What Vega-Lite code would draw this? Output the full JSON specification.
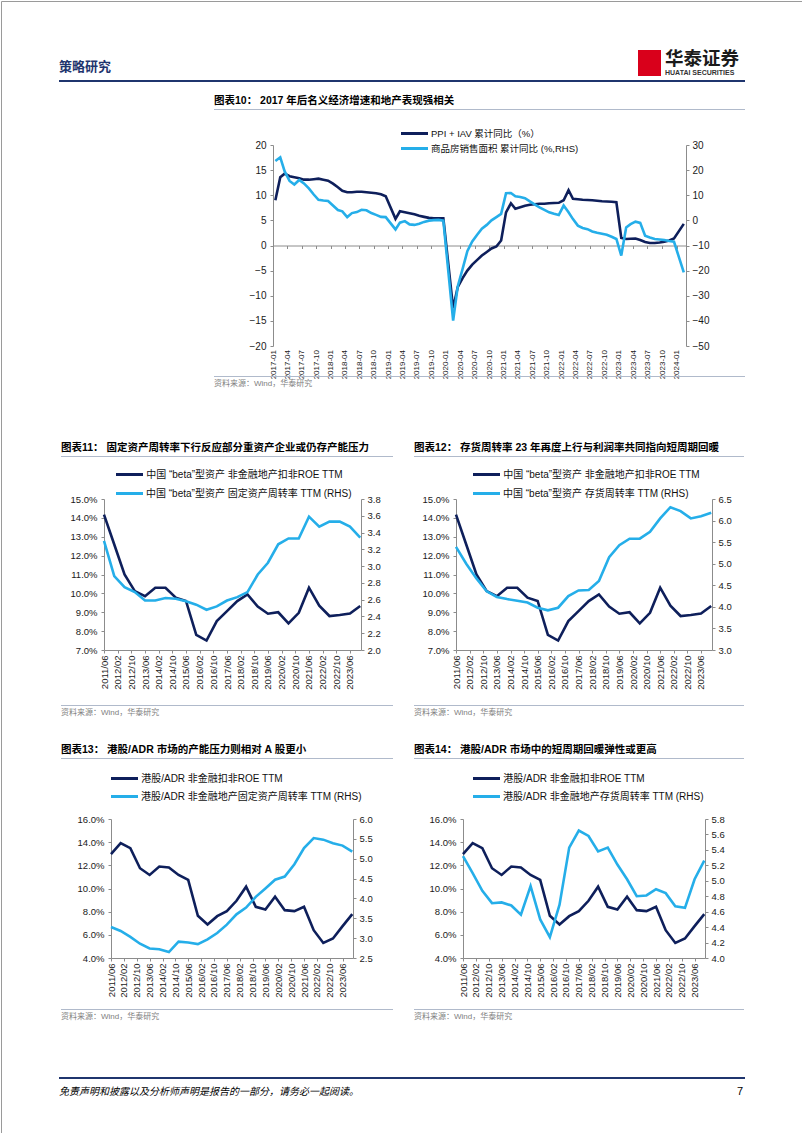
{
  "$schema": "https://vega.github.io/schema/vega-lite/v6.json",
  "padding": 0,
  "spacing": 0,
  "bounds": "flush",
  "config": {
    "font": "Liberation Sans, Noto Sans CJK SC",
    "view": {"stroke": null},
    "axis": {"grid": false, "domainColor": "#8c8c8c", "tickColor": "#8c8c8c", "labelColor": "#1a1a1a", "labelFontSize": 9.5, "tickSize": 3, "labelFont": "Liberation Sans, Noto Sans CJK SC"},
    "title": {"font": "Liberation Sans, Noto Sans CJK SC"}
  },
  "datasets": {
    "empty": [],
    "c10_ppi": [
      {"month": "2017-01-16", "value": 9.0}, {"month": "2017-02-16", "value": 13.6}, {"month": "2017-03-16", "value": 14.3}, {"month": "2017-04-16", "value": 13.8}, {"month": "2017-05-16", "value": 13.6}, {"month": "2017-06-16", "value": 13.4}, {"month": "2017-07-16", "value": 13.1}, {"month": "2017-08-16", "value": 13.1}, {"month": "2017-09-16", "value": 13.2}, {"month": "2017-10-16", "value": 13.3}, {"month": "2017-11-16", "value": 13.1}, {"month": "2017-12-16", "value": 12.9},
      {"month": "2018-01-16", "value": 12.3}, {"month": "2018-02-16", "value": 11.6}, {"month": "2018-03-16", "value": 10.9}, {"month": "2018-04-16", "value": 10.6}, {"month": "2018-05-16", "value": 10.6}, {"month": "2018-06-16", "value": 10.7}, {"month": "2018-07-16", "value": 10.7}, {"month": "2018-08-16", "value": 10.6}, {"month": "2018-09-16", "value": 10.5}, {"month": "2018-10-16", "value": 10.4}, {"month": "2018-11-16", "value": 10.2}, {"month": "2018-12-16", "value": 9.8},
      {"month": "2019-02-16", "value": 5.3}, {"month": "2019-03-16", "value": 6.8}, {"month": "2019-04-16", "value": 6.6}, {"month": "2019-05-16", "value": 6.4}, {"month": "2019-06-16", "value": 6.2}, {"month": "2019-07-16", "value": 5.9}, {"month": "2019-08-16", "value": 5.7}, {"month": "2019-09-16", "value": 5.5}, {"month": "2019-10-16", "value": 5.4}, {"month": "2019-11-16", "value": 5.4}, {"month": "2019-12-16", "value": 5.4},
      {"month": "2020-02-16", "value": -12.5}, {"month": "2020-03-16", "value": -8.3}, {"month": "2020-04-16", "value": -6.5}, {"month": "2020-05-16", "value": -5.0}, {"month": "2020-06-16", "value": -3.8}, {"month": "2020-07-16", "value": -2.9}, {"month": "2020-08-16", "value": -2.0}, {"month": "2020-09-16", "value": -1.3}, {"month": "2020-10-16", "value": -0.6}, {"month": "2020-11-16", "value": -0.2}, {"month": "2020-12-16", "value": 1.0},
      {"month": "2021-01-16", "value": 6.6}, {"month": "2021-02-16", "value": 8.4}, {"month": "2021-03-16", "value": 7.3}, {"month": "2021-04-16", "value": 7.6}, {"month": "2021-05-16", "value": 7.9}, {"month": "2021-06-16", "value": 8.1}, {"month": "2021-07-16", "value": 8.2}, {"month": "2021-08-16", "value": 8.3}, {"month": "2021-09-16", "value": 8.3}, {"month": "2021-10-16", "value": 8.4}, {"month": "2021-11-16", "value": 8.45}, {"month": "2021-12-16", "value": 8.5},
      {"month": "2022-01-16", "value": 9.0}, {"month": "2022-02-16", "value": 11.0}, {"month": "2022-03-16", "value": 9.3}, {"month": "2022-04-16", "value": 9.2}, {"month": "2022-05-16", "value": 9.1}, {"month": "2022-06-16", "value": 9.05}, {"month": "2022-07-16", "value": 9.0}, {"month": "2022-08-16", "value": 8.9}, {"month": "2022-09-16", "value": 8.8}, {"month": "2022-10-16", "value": 8.75}, {"month": "2022-11-16", "value": 8.7}, {"month": "2022-12-16", "value": 8.6},
      {"month": "2023-01-16", "value": 1.5}, {"month": "2023-02-16", "value": 1.3}, {"month": "2023-03-16", "value": 1.35}, {"month": "2023-04-16", "value": 1.4}, {"month": "2023-05-16", "value": 1.1}, {"month": "2023-06-16", "value": 0.7}, {"month": "2023-07-16", "value": 0.5}, {"month": "2023-08-16", "value": 0.5}, {"month": "2023-09-16", "value": 0.6}, {"month": "2023-10-16", "value": 0.75}, {"month": "2023-11-16", "value": 1.0}, {"month": "2023-12-16", "value": 1.4},
      {"month": "2024-02-16", "value": 4.3}
    ],
    "c10_sales": [
      {"month": "2017-01-16", "value": 23.6}, {"month": "2017-02-16", "value": 25.1}, {"month": "2017-03-16", "value": 19.5}, {"month": "2017-04-16", "value": 15.7}, {"month": "2017-05-16", "value": 14.3}, {"month": "2017-06-16", "value": 16.1}, {"month": "2017-07-16", "value": 14.7}, {"month": "2017-08-16", "value": 12.7}, {"month": "2017-09-16", "value": 10.3}, {"month": "2017-10-16", "value": 8.2}, {"month": "2017-11-16", "value": 7.9}, {"month": "2017-12-16", "value": 7.7},
      {"month": "2018-02-16", "value": 4.1}, {"month": "2018-03-16", "value": 3.6}, {"month": "2018-04-16", "value": 1.3}, {"month": "2018-05-16", "value": 2.9}, {"month": "2018-06-16", "value": 3.3}, {"month": "2018-07-16", "value": 4.2}, {"month": "2018-08-16", "value": 4.0}, {"month": "2018-09-16", "value": 2.9}, {"month": "2018-10-16", "value": 2.2}, {"month": "2018-11-16", "value": 1.4}, {"month": "2018-12-16", "value": 1.3},
      {"month": "2019-02-16", "value": -3.6}, {"month": "2019-03-16", "value": -0.9}, {"month": "2019-04-16", "value": -0.3}, {"month": "2019-05-16", "value": -1.6}, {"month": "2019-06-16", "value": -1.8}, {"month": "2019-07-16", "value": -1.3}, {"month": "2019-08-16", "value": -0.6}, {"month": "2019-09-16", "value": -0.1}, {"month": "2019-10-16", "value": 0.1}, {"month": "2019-11-16", "value": 0.2}, {"month": "2019-12-16", "value": -0.1},
      {"month": "2020-02-16", "value": -39.9}, {"month": "2020-03-16", "value": -26.3}, {"month": "2020-04-16", "value": -19.3}, {"month": "2020-05-16", "value": -12.3}, {"month": "2020-06-16", "value": -8.4}, {"month": "2020-07-16", "value": -5.8}, {"month": "2020-08-16", "value": -3.3}, {"month": "2020-09-16", "value": -1.8}, {"month": "2020-10-16", "value": 0.0}, {"month": "2020-11-16", "value": 1.3}, {"month": "2020-12-16", "value": 2.6},
      {"month": "2021-01-16", "value": 10.8}, {"month": "2021-02-16", "value": 10.9}, {"month": "2021-03-16", "value": 9.6}, {"month": "2021-04-16", "value": 9.3}, {"month": "2021-05-16", "value": 8.8}, {"month": "2021-06-16", "value": 7.6}, {"month": "2021-07-16", "value": 6.4}, {"month": "2021-08-16", "value": 5.2}, {"month": "2021-09-16", "value": 4.2}, {"month": "2021-10-16", "value": 3.2}, {"month": "2021-11-16", "value": 2.6}, {"month": "2021-12-16", "value": 2.1},
      {"month": "2022-01-16", "value": 5.9}, {"month": "2022-02-16", "value": 3.2}, {"month": "2022-03-16", "value": 0.5}, {"month": "2022-04-16", "value": -2.1}, {"month": "2022-05-16", "value": -3.0}, {"month": "2022-06-16", "value": -3.5}, {"month": "2022-07-16", "value": -4.4}, {"month": "2022-08-16", "value": -4.9}, {"month": "2022-09-16", "value": -5.3}, {"month": "2022-10-16", "value": -5.7}, {"month": "2022-11-16", "value": -6.5}, {"month": "2022-12-16", "value": -7.4},
      {"month": "2023-01-16", "value": -14.0}, {"month": "2023-02-16", "value": -2.8}, {"month": "2023-03-16", "value": -1.5}, {"month": "2023-04-16", "value": -0.5}, {"month": "2023-05-16", "value": -1.0}, {"month": "2023-06-16", "value": -6.1}, {"month": "2023-07-16", "value": -6.8}, {"month": "2023-08-16", "value": -7.4}, {"month": "2023-09-16", "value": -7.6}, {"month": "2023-10-16", "value": -7.8}, {"month": "2023-11-16", "value": -8.2}, {"month": "2023-12-16", "value": -8.5},
      {"month": "2024-02-16", "value": -20.7}
    ],
    "panel": [
      {"date": "2011-06-01", "roe_a": 14.17, "fa_a": 3.30, "inv_a": 5.39, "roe_hk": 12.96, "fa_hk": 3.28, "inv_hk": 5.32},
      {"date": "2011-12-01", "roe_a": 12.59, "fa_a": 2.88, "inv_a": 5.00, "roe_hk": 13.92, "fa_hk": 3.18, "inv_hk": 5.10},
      {"date": "2012-06-01", "roe_a": 11.00, "fa_a": 2.75, "inv_a": 4.66, "roe_hk": 13.48, "fa_hk": 3.03, "inv_hk": 4.87},
      {"date": "2012-12-01", "roe_a": 10.12, "fa_a": 2.69, "inv_a": 4.36, "roe_hk": 11.75, "fa_hk": 2.86, "inv_hk": 4.71},
      {"date": "2013-06-01", "roe_a": 9.85, "fa_a": 2.59, "inv_a": 4.23, "roe_hk": 11.17, "fa_hk": 2.74, "inv_hk": 4.72},
      {"date": "2013-12-01", "roe_a": 10.30, "fa_a": 2.59, "inv_a": 4.18, "roe_hk": 11.90, "fa_hk": 2.72, "inv_hk": 4.68},
      {"date": "2014-06-01", "roe_a": 10.30, "fa_a": 2.62, "inv_a": 4.14, "roe_hk": 11.81, "fa_hk": 2.65, "inv_hk": 4.56},
      {"date": "2014-12-01", "roe_a": 9.77, "fa_a": 2.61, "inv_a": 4.10, "roe_hk": 11.17, "fa_hk": 2.91, "inv_hk": 4.93},
      {"date": "2015-06-01", "roe_a": 9.60, "fa_a": 2.58, "inv_a": 3.98, "roe_hk": 10.74, "fa_hk": 2.89, "inv_hk": 4.50},
      {"date": "2015-12-01", "roe_a": 7.80, "fa_a": 2.54, "inv_a": 3.92, "roe_hk": 7.64, "fa_hk": 2.85, "inv_hk": 4.27},
      {"date": "2016-06-01", "roe_a": 7.50, "fa_a": 2.48, "inv_a": 3.98, "roe_hk": 6.89, "fa_hk": 2.97, "inv_hk": 4.69},
      {"date": "2016-12-01", "roe_a": 8.53, "fa_a": 2.52, "inv_a": 4.25, "roe_hk": 7.61, "fa_hk": 3.13, "inv_hk": 5.43},
      {"date": "2017-06-01", "roe_a": 9.06, "fa_a": 2.59, "inv_a": 4.38, "roe_hk": 8.05, "fa_hk": 3.34, "inv_hk": 5.65},
      {"date": "2017-12-01", "roe_a": 9.59, "fa_a": 2.63, "inv_a": 4.39, "roe_hk": 8.94, "fa_hk": 3.60, "inv_hk": 5.58},
      {"date": "2018-06-01", "roe_a": 9.94, "fa_a": 2.69, "inv_a": 4.60, "roe_hk": 10.16, "fa_hk": 3.77, "inv_hk": 5.38},
      {"date": "2018-12-01", "roe_a": 9.30, "fa_a": 2.90, "inv_a": 5.15, "roe_hk": 8.42, "fa_hk": 4.04, "inv_hk": 5.43},
      {"date": "2019-06-01", "roe_a": 8.92, "fa_a": 3.04, "inv_a": 5.43, "roe_hk": 8.19, "fa_hk": 4.25, "inv_hk": 5.21},
      {"date": "2019-12-01", "roe_a": 9.00, "fa_a": 3.26, "inv_a": 5.58, "roe_hk": 9.29, "fa_hk": 4.47, "inv_hk": 5.02},
      {"date": "2020-06-01", "roe_a": 8.41, "fa_a": 3.33, "inv_a": 5.58, "roe_hk": 8.13, "fa_hk": 4.55, "inv_hk": 4.80},
      {"date": "2020-12-01", "roe_a": 8.97, "fa_a": 3.33, "inv_a": 5.74, "roe_hk": 8.05, "fa_hk": 4.86, "inv_hk": 4.81},
      {"date": "2021-06-01", "roe_a": 10.30, "fa_a": 3.59, "inv_a": 6.05, "roe_hk": 8.42, "fa_hk": 5.27, "inv_hk": 4.89},
      {"date": "2021-12-01", "roe_a": 9.35, "fa_a": 3.47, "inv_a": 6.31, "roe_hk": 6.40, "fa_hk": 5.52, "inv_hk": 4.84},
      {"date": "2022-06-01", "roe_a": 8.80, "fa_a": 3.53, "inv_a": 6.22, "roe_hk": 5.30, "fa_hk": 5.48, "inv_hk": 4.67},
      {"date": "2022-12-01", "roe_a": 8.85, "fa_a": 3.53, "inv_a": 6.05, "roe_hk": 5.68, "fa_hk": 5.39, "inv_hk": 4.65},
      {"date": "2023-06-01", "roe_a": 8.93, "fa_a": 3.47, "inv_a": 6.10, "roe_hk": 6.75, "fa_hk": 5.33, "inv_hk": 5.02},
      {"date": "2023-12-01", "roe_a": 9.33, "fa_a": 3.34, "inv_a": 6.18, "roe_hk": 7.79, "fa_hk": 5.18, "inv_hk": 5.26}
    ]
  },
  "vconcat": [
    {"hconcat": [{"width": 801, "height": 1132, "data": {"name": "empty"}, "mark": "point", "view": {"stroke": "#9a9a9a", "strokeWidth": 1, "fill": null}}], "spacing": 0, "bounds": "flush"},
    {"width": 1, "height": 49, "data": {"name": "empty"}, "mark": "point"},
    {"hconcat": [
      {"width": 637, "height": 1, "data": {"name": "empty"}, "mark": "point"},
      {"width": 23, "height": 26, "data": {"name": "empty"}, "mark": "point", "view": {"fill": "#d9001b", "stroke": null}}
    ], "spacing": 0, "bounds": "flush"},
    {"width": 1, "height": 27, "data": {"name": "empty"}, "mark": "point"},
    {"hconcat": [
      {"width": 664, "height": 1, "data": {"name": "empty"}, "mark": "point"},
      {"width": 78, "height": 1, "data": {"name": "empty"}, "mark": "point", "title": {"text": "华泰证券", "subtitle": "HUATAI SECURITIES", "anchor": "start", "frame": "group", "orient": "top", "offset": 1, "fontSize": 18.5, "fontWeight": "bold", "color": "#1a1a1a", "subtitleFontSize": 7, "subtitleFontWeight": "bold", "subtitleColor": "#333333", "subtitlePadding": 1}}
    ], "spacing": 0, "bounds": "flush"},
    {"width": 1, "height": 3, "data": {"name": "empty"}, "mark": "point"},
    {"hconcat": [
      {"width": 58, "height": 1, "data": {"name": "empty"}, "mark": "point"},
      {"width": 686, "height": 2, "data": {"name": "empty"}, "mark": "point", "view": {"fill": "#1f356e", "stroke": null}, "title": {"text": "策略研究", "anchor": "start", "frame": "group", "orient": "top", "offset": 6, "fontSize": 13, "fontWeight": "bold", "color": "#1f356e", "dx": 0}}
    ], "spacing": 0, "bounds": "flush"},
    {"width": 1, "height": 29, "data": {"name": "empty"}, "mark": "point"},
    {"hconcat": [
      {"width": 213, "height": 1, "data": {"name": "empty"}, "mark": "point"},
      {"width": 531, "height": 1, "data": {"name": "empty"}, "mark": "point", "view": {"fill": "#b0bacb", "stroke": null}, "title": {"text": "图表10： 2017 年后名义经济增速和地产表现强相关", "anchor": "start", "frame": "group", "orient": "top", "offset": 3, "fontSize": 10.5, "fontWeight": "bold", "color": "#000000"}}
    ], "spacing": 0, "bounds": "flush"},
    {"width": 1, "height": 23, "data": {"name": "empty"}, "mark": "point"},
    {"hconcat": [
      {"width": 400, "height": 1, "data": {"name": "empty"}, "mark": "point"},
      {"width": 27, "height": 3, "data": {"name": "empty"}, "mark": "point", "view": {"fill": "#0e1f5b", "stroke": null}, "title": {"text": "PPI + IAV 累计同比（%）", "orient": "right", "angle": 0, "align": "right", "baseline": "middle", "anchor": "middle", "offset": 3, "fontSize": 9.5, "fontWeight": "normal", "color": "#111111"}}
    ], "spacing": 0, "bounds": "flush"},
    {"width": 1, "height": 13, "data": {"name": "empty"}, "mark": "point"},
    {"hconcat": [
      {"width": 272, "height": 1, "data": {"name": "empty"}, "mark": "point"},
      {
        "width": 413, "height": 201,
        "encoding": {
          "x": {"field": "month", "type": "temporal",
            "scale": {"type": "utc", "domain": [{"year": 2017, "month": 1, "date": 1, "utc": true}, {"year": 2024, "month": 3, "date": 1, "utc": true}]},
            "axis": {"title": null, "labelExpr": "utcFormat(datum.value, '%Y-%m')", "tickCount": {"interval": "month", "step": 3}, "labelAngle": -90, "offset": -100.5, "labelPadding": 101, "tickSize": 3, "labelFontSize": 8, "labelOverlap": false, "labelFlush": false}}
        },
        "layer": [
          {
            "data": {"name": "c10_ppi"},
            "mark": {"type": "line", "color": "#0e1f5b", "strokeWidth": 2.6},
            "encoding": {
              "y": {"field": "value", "type": "quantitative", "scale": {"domain": [-20, 20], "nice": false, "zero": false},
                "axis": {"title": null, "values": [-20, -15, -10, -5, 0, 5, 10, 15, 20], "labelPadding": 4, "labelFontSize": 10}}
            }
          },
          {
            "data": {"name": "c10_sales"},
            "mark": {"type": "line", "color": "#25aee9", "strokeWidth": 2.6},
            "encoding": {
              "y": {"field": "value", "type": "quantitative", "scale": {"domain": [-50, 30], "nice": false, "zero": false},
                "axis": {"title": null, "orient": "right", "values": [-50, -40, -30, -20, -10, 0, 10, 20, 30], "labelPadding": 3, "labelFontSize": 10}}
            }
          }
        ],
        "resolve": {"scale": {"y": "independent"}}
      }
    ], "spacing": 0, "bounds": "flush"},
    {"width": 1, "height": 2, "data": {"name": "empty"}, "mark": "point"},
    {"hconcat": [
      {"width": 400, "height": 1, "data": {"name": "empty"}, "mark": "point"},
      {"width": 27, "height": 3, "data": {"name": "empty"}, "mark": "point", "view": {"fill": "#25aee9", "stroke": null}, "title": {"text": "商品房销售面积 累计同比 (%,RHS)", "orient": "right", "angle": 0, "align": "right", "baseline": "middle", "anchor": "middle", "offset": 3, "fontSize": 9.5, "fontWeight": "normal", "color": "#111111"}}
    ], "spacing": 0, "bounds": "flush"},
    {"width": 1, "height": 229, "data": {"name": "empty"}, "mark": "point"},
    {"hconcat": [
      {"width": 213, "height": 1, "data": {"name": "empty"}, "mark": "point"},
      {"width": 531, "height": 1, "data": {"name": "empty"}, "mark": "point", "view": {"fill": "#b0bacb", "stroke": null}, "title": {"text": "资料来源：Wind，华泰研究", "anchor": "start", "frame": "group", "orient": "bottom", "offset": 3, "fontSize": 8, "fontWeight": "normal", "color": "#808080"}}
    ], "spacing": 0, "bounds": "flush"},
    {"width": 1, "height": 80, "data": {"name": "empty"}, "mark": "point"},
    {"hconcat": [
      {"width": 60, "height": 1, "data": {"name": "empty"}, "mark": "point"},
      {"width": 332, "height": 1, "data": {"name": "empty"}, "mark": "point", "view": {"fill": "#b0bacb", "stroke": null}, "title": {"text": "图表11： 固定资产周转率下行反应部分重资产企业或仍存产能压力", "anchor": "start", "frame": "group", "orient": "top", "offset": 3, "fontSize": 10.5, "fontWeight": "bold", "color": "#000000"}},
      {"width": 21, "height": 1, "data": {"name": "empty"}, "mark": "point"},
      {"width": 330, "height": 1, "data": {"name": "empty"}, "mark": "point", "view": {"fill": "#b0bacb", "stroke": null}, "title": {"text": "图表12： 存货周转率 23 年再度上行与利润率共同指向短周期回暖", "anchor": "start", "frame": "group", "orient": "top", "offset": 3, "fontSize": 10.5, "fontWeight": "bold", "color": "#000000"}}
    ], "spacing": 0, "bounds": "flush"},
    {"width": 1, "height": 17, "data": {"name": "empty"}, "mark": "point"},
    {"hconcat": [
      {"width": 115, "height": 1, "data": {"name": "empty"}, "mark": "point"},
      {"width": 27, "height": 3, "data": {"name": "empty"}, "mark": "point", "view": {"fill": "#0e1f5b", "stroke": null}, "title": {"text": "中国 “beta”型资产 非金融地产扣非ROE TTM", "orient": "right", "angle": 0, "align": "right", "baseline": "middle", "anchor": "middle", "offset": 3, "fontSize": 10, "fontWeight": "normal", "color": "#111111"}},
      {"width": 330, "height": 1, "data": {"name": "empty"}, "mark": "point"},
      {"width": 27, "height": 3, "data": {"name": "empty"}, "mark": "point", "view": {"fill": "#0e1f5b", "stroke": null}, "title": {"text": "中国 “beta”型资产 非金融地产扣非ROE TTM", "orient": "right", "angle": 0, "align": "right", "baseline": "middle", "anchor": "middle", "offset": 3, "fontSize": 10, "fontWeight": "normal", "color": "#111111"}}
    ], "spacing": 0, "bounds": "flush"},
    {"width": 1, "height": 19, "data": {"name": "empty"}, "mark": "point"},
    {"hconcat": [
      {"width": 115, "height": 1, "data": {"name": "empty"}, "mark": "point"},
      {"width": 27, "height": 3, "data": {"name": "empty"}, "mark": "point", "view": {"fill": "#25aee9", "stroke": null}, "title": {"text": "中国 “beta”型资产 固定资产周转率 TTM (RHS)", "orient": "right", "angle": 0, "align": "right", "baseline": "middle", "anchor": "middle", "offset": 3, "fontSize": 10, "fontWeight": "normal", "color": "#111111"}},
      {"width": 330, "height": 1, "data": {"name": "empty"}, "mark": "point"},
      {"width": 27, "height": 3, "data": {"name": "empty"}, "mark": "point", "view": {"fill": "#25aee9", "stroke": null}, "title": {"text": "中国 “beta”型资产 存货周转率 TTM (RHS)", "orient": "right", "angle": 0, "align": "right", "baseline": "middle", "anchor": "middle", "offset": 3, "fontSize": 10, "fontWeight": "normal", "color": "#111111"}}
    ], "spacing": 0, "bounds": "flush"},
    {"width": 1, "height": 7, "data": {"name": "empty"}, "mark": "point"},
    {"hconcat": [
      {"width": 103, "height": 1, "data": {"name": "empty"}, "mark": "point"},
      {
        "width": 257, "height": 151,
        "data": {"name": "panel"},
        "encoding": {
          "x": {"field": "date", "type": "temporal", "scale": {"type": "utc", "domain": [{"year": 2011, "month": 6, "date": 1, "utc": true}, {"year": 2023, "month": 12, "date": 15, "utc": true}]},
            "axis": {"title": null, "labelExpr": "utcFormat(datum.value, '%Y/%m')", "labelAngle": -90, "labelPadding": 2, "tickSize": 3, "labelOverlap": false, "labelFlush": false, "labelFontSize": 9.5,
              "values": [{"year": 2011, "month": 6, "date": 1, "utc": true}, {"year": 2012, "month": 2, "date": 1, "utc": true}, {"year": 2012, "month": 10, "date": 1, "utc": true}, {"year": 2013, "month": 6, "date": 1, "utc": true}, {"year": 2014, "month": 2, "date": 1, "utc": true}, {"year": 2014, "month": 10, "date": 1, "utc": true}, {"year": 2015, "month": 6, "date": 1, "utc": true}, {"year": 2016, "month": 2, "date": 1, "utc": true}, {"year": 2016, "month": 10, "date": 1, "utc": true}, {"year": 2017, "month": 6, "date": 1, "utc": true}, {"year": 2018, "month": 2, "date": 1, "utc": true}, {"year": 2018, "month": 10, "date": 1, "utc": true}, {"year": 2019, "month": 6, "date": 1, "utc": true}, {"year": 2020, "month": 2, "date": 1, "utc": true}, {"year": 2020, "month": 10, "date": 1, "utc": true}, {"year": 2021, "month": 6, "date": 1, "utc": true}, {"year": 2022, "month": 2, "date": 1, "utc": true}, {"year": 2022, "month": 10, "date": 1, "utc": true}, {"year": 2023, "month": 6, "date": 1, "utc": true}]}}
        },
        "layer": [
          {"mark": {"type": "line", "color": "#0e1f5b", "strokeWidth": 2.6},
           "encoding": {
             "y": {"field": "roe_a", "type": "quantitative", "scale": {"domain": [7, 15], "nice": false, "zero": false},
               "axis": {"title": null, "values": [7, 8, 9, 10, 11, 12, 13, 14, 15], "labelExpr": "format(datum.value, '.1f') + '%'", "labelPadding": 4}}
           }},
          {"mark": {"type": "line", "color": "#25aee9", "strokeWidth": 2.6},
           "encoding": {
             "y": {"field": "fa_a", "type": "quantitative", "scale": {"domain": [2.0, 3.8], "nice": false, "zero": false},
               "axis": {"title": null, "orient": "right", "values": [2.0, 2.2, 2.4, 2.6, 2.8, 3.0, 3.2, 3.4, 3.6, 3.8], "format": ".1f", "labelPadding": 3}}
           }}
        ],
        "resolve": {"scale": {"y": "independent"}}
      },
      {"width": 95, "height": 1, "data": {"name": "empty"}, "mark": "point"},
      {
        "width": 256, "height": 151,
        "data": {"name": "panel"},
        "encoding": {
          "x": {"field": "date", "type": "temporal", "scale": {"type": "utc", "domain": [{"year": 2011, "month": 6, "date": 1, "utc": true}, {"year": 2023, "month": 12, "date": 15, "utc": true}]},
            "axis": {"title": null, "labelExpr": "utcFormat(datum.value, '%Y/%m')", "labelAngle": -90, "labelPadding": 2, "tickSize": 3, "labelOverlap": false, "labelFlush": false, "labelFontSize": 9.5,
              "values": [{"year": 2011, "month": 6, "date": 1, "utc": true}, {"year": 2012, "month": 2, "date": 1, "utc": true}, {"year": 2012, "month": 10, "date": 1, "utc": true}, {"year": 2013, "month": 6, "date": 1, "utc": true}, {"year": 2014, "month": 2, "date": 1, "utc": true}, {"year": 2014, "month": 10, "date": 1, "utc": true}, {"year": 2015, "month": 6, "date": 1, "utc": true}, {"year": 2016, "month": 2, "date": 1, "utc": true}, {"year": 2016, "month": 10, "date": 1, "utc": true}, {"year": 2017, "month": 6, "date": 1, "utc": true}, {"year": 2018, "month": 2, "date": 1, "utc": true}, {"year": 2018, "month": 10, "date": 1, "utc": true}, {"year": 2019, "month": 6, "date": 1, "utc": true}, {"year": 2020, "month": 2, "date": 1, "utc": true}, {"year": 2020, "month": 10, "date": 1, "utc": true}, {"year": 2021, "month": 6, "date": 1, "utc": true}, {"year": 2022, "month": 2, "date": 1, "utc": true}, {"year": 2022, "month": 10, "date": 1, "utc": true}, {"year": 2023, "month": 6, "date": 1, "utc": true}]}}
        },
        "layer": [
          {"mark": {"type": "line", "color": "#0e1f5b", "strokeWidth": 2.6},
           "encoding": {
             "y": {"field": "roe_a", "type": "quantitative", "scale": {"domain": [7, 15], "nice": false, "zero": false},
               "axis": {"title": null, "values": [7, 8, 9, 10, 11, 12, 13, 14, 15], "labelExpr": "format(datum.value, '.1f') + '%'", "labelPadding": 4}}
           }},
          {"mark": {"type": "line", "color": "#25aee9", "strokeWidth": 2.6},
           "encoding": {
             "y": {"field": "inv_a", "type": "quantitative", "scale": {"domain": [3.0, 6.5], "nice": false, "zero": false},
               "axis": {"title": null, "orient": "right", "values": [3.0, 3.5, 4.0, 4.5, 5.0, 5.5, 6.0, 6.5], "format": ".1f", "labelPadding": 3}}
           }}
        ],
        "resolve": {"scale": {"y": "independent"}}
      }
    ], "spacing": 0, "bounds": "flush"},
    {"width": 1, "height": 206, "data": {"name": "empty"}, "mark": "point"},
    {"hconcat": [
      {"width": 60, "height": 1, "data": {"name": "empty"}, "mark": "point"},
      {"width": 332, "height": 1, "data": {"name": "empty"}, "mark": "point", "view": {"fill": "#b0bacb", "stroke": null}, "title": {"text": "资料来源：Wind，华泰研究", "anchor": "start", "frame": "group", "orient": "bottom", "offset": 3, "fontSize": 8, "fontWeight": "normal", "color": "#808080"}},
      {"width": 21, "height": 1, "data": {"name": "empty"}, "mark": "point"},
      {"width": 330, "height": 1, "data": {"name": "empty"}, "mark": "point", "view": {"fill": "#b0bacb", "stroke": null}, "title": {"text": "资料来源：Wind，华泰研究", "anchor": "start", "frame": "group", "orient": "bottom", "offset": 3, "fontSize": 8, "fontWeight": "normal", "color": "#808080"}}
    ], "spacing": 0, "bounds": "flush"},
    {"width": 1, "height": 53, "data": {"name": "empty"}, "mark": "point"},
    {"hconcat": [
      {"width": 60, "height": 1, "data": {"name": "empty"}, "mark": "point"},
      {"width": 332, "height": 1, "data": {"name": "empty"}, "mark": "point", "view": {"fill": "#b0bacb", "stroke": null}, "title": {"text": "图表13： 港股/ADR 市场的产能压力则相对 A 股更小", "anchor": "start", "frame": "group", "orient": "top", "offset": 3, "fontSize": 10.5, "fontWeight": "bold", "color": "#000000"}},
      {"width": 21, "height": 1, "data": {"name": "empty"}, "mark": "point"},
      {"width": 330, "height": 1, "data": {"name": "empty"}, "mark": "point", "view": {"fill": "#b0bacb", "stroke": null}, "title": {"text": "图表14： 港股/ADR 市场中的短周期回暖弹性或更高", "anchor": "start", "frame": "group", "orient": "top", "offset": 3, "fontSize": 10.5, "fontWeight": "bold", "color": "#000000"}}
    ], "spacing": 0, "bounds": "flush"},
    {"width": 1, "height": 19, "data": {"name": "empty"}, "mark": "point"},
    {"hconcat": [
      {"width": 110, "height": 1, "data": {"name": "empty"}, "mark": "point"},
      {"width": 27, "height": 3, "data": {"name": "empty"}, "mark": "point", "view": {"fill": "#0e1f5b", "stroke": null}, "title": {"text": "港股/ADR 非金融扣非ROE TTM", "orient": "right", "angle": 0, "align": "right", "baseline": "middle", "anchor": "middle", "offset": 3, "fontSize": 10, "fontWeight": "normal", "color": "#111111"}},
      {"width": 335, "height": 1, "data": {"name": "empty"}, "mark": "point"},
      {"width": 27, "height": 3, "data": {"name": "empty"}, "mark": "point", "view": {"fill": "#0e1f5b", "stroke": null}, "title": {"text": "港股/ADR 非金融扣非ROE TTM", "orient": "right", "angle": 0, "align": "right", "baseline": "middle", "anchor": "middle", "offset": 3, "fontSize": 10, "fontWeight": "normal", "color": "#111111"}}
    ], "spacing": 0, "bounds": "flush"},
    {"width": 1, "height": 18, "data": {"name": "empty"}, "mark": "point"},
    {"hconcat": [
      {"width": 110, "height": 1, "data": {"name": "empty"}, "mark": "point"},
      {"width": 27, "height": 3, "data": {"name": "empty"}, "mark": "point", "view": {"fill": "#25aee9", "stroke": null}, "title": {"text": "港股/ADR 非金融地产固定资产周转率 TTM (RHS)", "orient": "right", "angle": 0, "align": "right", "baseline": "middle", "anchor": "middle", "offset": 3, "fontSize": 10, "fontWeight": "normal", "color": "#111111"}},
      {"width": 335, "height": 1, "data": {"name": "empty"}, "mark": "point"},
      {"width": 27, "height": 3, "data": {"name": "empty"}, "mark": "point", "view": {"fill": "#25aee9", "stroke": null}, "title": {"text": "港股/ADR 非金融地产存货周转率 TTM (RHS)", "orient": "right", "angle": 0, "align": "right", "baseline": "middle", "anchor": "middle", "offset": 3, "fontSize": 10, "fontWeight": "normal", "color": "#111111"}}
    ], "spacing": 0, "bounds": "flush"},
    {"width": 1, "height": 24, "data": {"name": "empty"}, "mark": "point"},
    {"hconcat": [
      {"width": 110, "height": 1, "data": {"name": "empty"}, "mark": "point"},
      {
        "width": 242, "height": 139,
        "data": {"name": "panel"},
        "encoding": {
          "x": {"field": "date", "type": "temporal", "scale": {"type": "utc", "domain": [{"year": 2011, "month": 6, "date": 1, "utc": true}, {"year": 2023, "month": 12, "date": 15, "utc": true}]},
            "axis": {"title": null, "labelExpr": "utcFormat(datum.value, '%Y/%m')", "labelAngle": -90, "labelPadding": 2, "tickSize": 3, "labelOverlap": false, "labelFlush": false, "labelFontSize": 9.5,
              "values": [{"year": 2011, "month": 6, "date": 1, "utc": true}, {"year": 2012, "month": 2, "date": 1, "utc": true}, {"year": 2012, "month": 10, "date": 1, "utc": true}, {"year": 2013, "month": 6, "date": 1, "utc": true}, {"year": 2014, "month": 2, "date": 1, "utc": true}, {"year": 2014, "month": 10, "date": 1, "utc": true}, {"year": 2015, "month": 6, "date": 1, "utc": true}, {"year": 2016, "month": 2, "date": 1, "utc": true}, {"year": 2016, "month": 10, "date": 1, "utc": true}, {"year": 2017, "month": 6, "date": 1, "utc": true}, {"year": 2018, "month": 2, "date": 1, "utc": true}, {"year": 2018, "month": 10, "date": 1, "utc": true}, {"year": 2019, "month": 6, "date": 1, "utc": true}, {"year": 2020, "month": 2, "date": 1, "utc": true}, {"year": 2020, "month": 10, "date": 1, "utc": true}, {"year": 2021, "month": 6, "date": 1, "utc": true}, {"year": 2022, "month": 2, "date": 1, "utc": true}, {"year": 2022, "month": 10, "date": 1, "utc": true}, {"year": 2023, "month": 6, "date": 1, "utc": true}]}}
        },
        "layer": [
          {"mark": {"type": "line", "color": "#0e1f5b", "strokeWidth": 2.6},
           "encoding": {
             "y": {"field": "roe_hk", "type": "quantitative", "scale": {"domain": [4, 16], "nice": false, "zero": false},
               "axis": {"title": null, "values": [4, 6, 8, 10, 12, 14, 16], "labelExpr": "format(datum.value, '.1f') + '%'", "labelPadding": 4}}
           }},
          {"mark": {"type": "line", "color": "#25aee9", "strokeWidth": 2.6},
           "encoding": {
             "y": {"field": "fa_hk", "type": "quantitative", "scale": {"domain": [2.5, 6.0], "nice": false, "zero": false},
               "axis": {"title": null, "orient": "right", "values": [2.5, 3.0, 3.5, 4.0, 4.5, 5.0, 5.5, 6.0], "format": ".1f", "labelPadding": 3}}
           }}
        ],
        "resolve": {"scale": {"y": "independent"}}
      },
      {"width": 110, "height": 1, "data": {"name": "empty"}, "mark": "point"},
      {
        "width": 242, "height": 139,
        "data": {"name": "panel"},
        "encoding": {
          "x": {"field": "date", "type": "temporal", "scale": {"type": "utc", "domain": [{"year": 2011, "month": 6, "date": 1, "utc": true}, {"year": 2023, "month": 12, "date": 15, "utc": true}]},
            "axis": {"title": null, "labelExpr": "utcFormat(datum.value, '%Y/%m')", "labelAngle": -90, "labelPadding": 2, "tickSize": 3, "labelOverlap": false, "labelFlush": false, "labelFontSize": 9.5,
              "values": [{"year": 2011, "month": 6, "date": 1, "utc": true}, {"year": 2012, "month": 2, "date": 1, "utc": true}, {"year": 2012, "month": 10, "date": 1, "utc": true}, {"year": 2013, "month": 6, "date": 1, "utc": true}, {"year": 2014, "month": 2, "date": 1, "utc": true}, {"year": 2014, "month": 10, "date": 1, "utc": true}, {"year": 2015, "month": 6, "date": 1, "utc": true}, {"year": 2016, "month": 2, "date": 1, "utc": true}, {"year": 2016, "month": 10, "date": 1, "utc": true}, {"year": 2017, "month": 6, "date": 1, "utc": true}, {"year": 2018, "month": 2, "date": 1, "utc": true}, {"year": 2018, "month": 10, "date": 1, "utc": true}, {"year": 2019, "month": 6, "date": 1, "utc": true}, {"year": 2020, "month": 2, "date": 1, "utc": true}, {"year": 2020, "month": 10, "date": 1, "utc": true}, {"year": 2021, "month": 6, "date": 1, "utc": true}, {"year": 2022, "month": 2, "date": 1, "utc": true}, {"year": 2022, "month": 10, "date": 1, "utc": true}, {"year": 2023, "month": 6, "date": 1, "utc": true}]}}
        },
        "layer": [
          {"mark": {"type": "line", "color": "#0e1f5b", "strokeWidth": 2.6},
           "encoding": {
             "y": {"field": "roe_hk", "type": "quantitative", "scale": {"domain": [4, 16], "nice": false, "zero": false},
               "axis": {"title": null, "values": [4, 6, 8, 10, 12, 14, 16], "labelExpr": "format(datum.value, '.1f') + '%'", "labelPadding": 4}}
           }},
          {"mark": {"type": "line", "color": "#25aee9", "strokeWidth": 2.6},
           "encoding": {
             "y": {"field": "inv_hk", "type": "quantitative", "scale": {"domain": [4.0, 5.8], "nice": false, "zero": false},
               "axis": {"title": null, "orient": "right", "values": [4.0, 4.2, 4.4, 4.6, 4.8, 5.0, 5.2, 5.4, 5.6, 5.8], "format": ".1f", "labelPadding": 3}}
           }}
        ],
        "resolve": {"scale": {"y": "independent"}}
      }
    ], "spacing": 0, "bounds": "flush"},
    {"width": 1, "height": 190, "data": {"name": "empty"}, "mark": "point"},
    {"hconcat": [
      {"width": 60, "height": 1, "data": {"name": "empty"}, "mark": "point"},
      {"width": 332, "height": 1, "data": {"name": "empty"}, "mark": "point", "view": {"fill": "#b0bacb", "stroke": null}, "title": {"text": "资料来源：Wind，华泰研究", "anchor": "start", "frame": "group", "orient": "bottom", "offset": 3, "fontSize": 8, "fontWeight": "normal", "color": "#808080"}},
      {"width": 21, "height": 1, "data": {"name": "empty"}, "mark": "point"},
      {"width": 330, "height": 1, "data": {"name": "empty"}, "mark": "point", "view": {"fill": "#b0bacb", "stroke": null}, "title": {"text": "资料来源：Wind，华泰研究", "anchor": "start", "frame": "group", "orient": "bottom", "offset": 3, "fontSize": 8, "fontWeight": "normal", "color": "#808080"}}
    ], "spacing": 0, "bounds": "flush"},
    {"width": 1, "height": 68, "data": {"name": "empty"}, "mark": "point"},
    {"hconcat": [
      {"width": 58, "height": 1, "data": {"name": "empty"}, "mark": "point"},
      {"width": 686, "height": 2, "data": {"name": "empty"}, "mark": "point", "view": {"fill": "#1f356e", "stroke": null}, "title": {"text": "免责声明和披露以及分析师声明是报告的一部分，请务必一起阅读。", "anchor": "start", "frame": "group", "orient": "bottom", "offset": 8, "fontSize": 10, "fontStyle": "italic", "fontWeight": "normal", "color": "#000000"}}
    ], "spacing": 0, "bounds": "flush"},
    {"width": 1, "height": 2, "data": {"name": "empty"}, "mark": "point"},
    {"hconcat": [
      {"width": 736, "height": 1, "data": {"name": "empty"}, "mark": "point"},
      {"width": 8, "height": 1, "data": {"name": "empty"}, "mark": "point", "title": {"text": "7", "anchor": "start", "frame": "group", "orient": "bottom", "offset": 6, "fontSize": 11, "fontWeight": "normal", "color": "#000000"}}
    ], "spacing": 0, "bounds": "flush"}
  ]
}
